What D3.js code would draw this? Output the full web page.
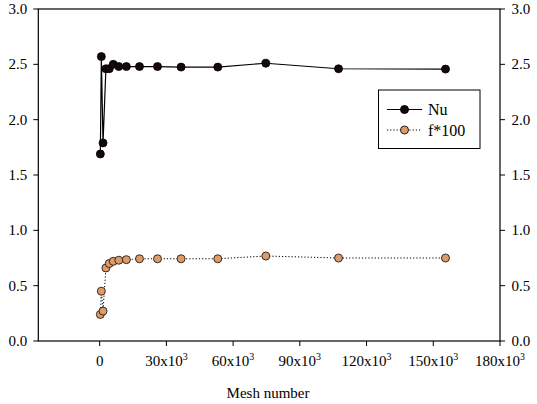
<!DOCTYPE html>
<html>
<head>
<meta charset="utf-8">
<script src="https://cdn.jsdelivr.net/npm/d3@7"></script>
<style>
  body { margin: 0; background: #fff; }
</style>
</head>
<body>
<svg id="chart" width="537" height="404"></svg>
<script>
// mesh sizes (shared x values) and the two series
const mesh = [300, 750, 1500, 2800, 4300, 6100, 8600, 12000, 17900, 26000, 36600, 53100, 74700, 107400, 155500];
const nu   = [1.69, 2.57, 1.79, 2.46, 2.46, 2.50, 2.48, 2.48, 2.48, 2.48, 2.475, 2.475, 2.51, 2.46, 2.457];
const f100 = [0.24, 0.45, 0.27, 0.66, 0.70, 0.72, 0.73, 0.735, 0.743, 0.743, 0.743, 0.743, 0.768, 0.75, 0.75];
const xTicks = [0, 30000, 60000, 90000, 120000, 150000, 180000];
const yTicks = [0, 0.5, 1.0, 1.5, 2.0, 2.5, 3.0];

const FONT = '"Liberation Serif", Tinos, "Noto Serif", "DejaVu Serif", "Times New Roman", serif';
const svg = d3.select('#chart').style('font-family', FONT);
const m = { l: 38.3, r: 500, t: 9, b: 341 };

const x = d3.scaleLinear().domain([-27600, 180000]).range([m.l, m.r]);
const y = d3.scaleLinear().domain([0, 3]).range([m.b, m.t]);

// frame
svg.append('rect').attr('x', m.l).attr('y', m.t).attr('width', m.r - m.l).attr('height', m.b - m.t)
  .attr('fill', 'none').attr('stroke', '#000').attr('stroke-width', 1.2);

// x axis ticks
xTicks.forEach(v => {
  svg.append('line').attr('x1', x(v)).attr('x2', x(v)).attr('y1', m.b).attr('y2', m.b + 5)
    .attr('stroke', '#000').attr('stroke-width', 1);
  const t = svg.append('text').attr('x', x(v)).attr('y', 366).attr('text-anchor', 'middle')
    .style('font-family', FONT).attr('font-size', 15);
  if (v === 0) t.text('0');
  else {
    t.append('tspan').text((v / 1000) + 'x10');
    t.append('tspan').attr('font-size', 10).attr('dy', -6).text('3');
  }
});

// y axis ticks both sides
yTicks.forEach(v => {
  svg.append('line').attr('x1', m.l - 5).attr('x2', m.l).attr('y1', y(v)).attr('y2', y(v)).attr('stroke', '#000');
  svg.append('line').attr('x1', m.r).attr('x2', m.r + 5).attr('y1', y(v)).attr('y2', y(v)).attr('stroke', '#000');
  svg.append('text').attr('x', m.l - 11).attr('y', y(v) + 5).attr('text-anchor', 'end')
    .style('font-family', FONT).attr('font-size', 15).text(v.toFixed(1));
  svg.append('text').attr('x', m.r + 11.5).attr('y', y(v) + 5).attr('text-anchor', 'start')
    .style('font-family', FONT).attr('font-size', 15).text(v.toFixed(1));
});

svg.append('text').attr('x', 268).attr('y', 398).attr('text-anchor', 'middle')
  .style('font-family', FONT).attr('font-size', 15).text('Mesh number');

// series
const line = vals => d3.line().x((d, i) => x(mesh[i])).y(d => y(d))(vals);

svg.append('path').attr('d', line(f100)).attr('fill', 'none').attr('stroke', '#000')
  .attr('stroke-width', 1).attr('stroke-dasharray', '1.2,2');
svg.append('path').attr('d', line(nu)).attr('fill', 'none').attr('stroke', '#000').attr('stroke-width', 1.2);

svg.selectAll('circle.nu').data(nu).join('circle').attr('class', 'nu')
  .attr('cx', (d, i) => x(mesh[i])).attr('cy', d => y(d)).attr('r', 4)
  .attr('fill', '#140808').attr('stroke', '#000').attr('stroke-width', 0.8);
svg.selectAll('circle.f').data(f100).join('circle').attr('class', 'f')
  .attr('cx', (d, i) => x(mesh[i])).attr('cy', d => y(d)).attr('r', 4)
  .attr('fill', '#d99c6c').attr('stroke', '#2a1a10').attr('stroke-width', 0.9);

// legend
const lg = svg.append('g');
lg.append('rect').attr('x', 378.5).attr('y', 90).attr('width', 101.5).attr('height', 58.5)
  .attr('fill', '#fff').attr('stroke', '#000').attr('stroke-width', 1);
lg.append('line').attr('x1', 387).attr('x2', 422).attr('y1', 109.5).attr('y2', 109.5).attr('stroke', '#000').attr('stroke-width', 1.2);
lg.append('circle').attr('cx', 404.5).attr('cy', 109.5).attr('r', 4).attr('fill', '#140808').attr('stroke', '#000');
lg.append('text').attr('x', 428).attr('y', 115).style('font-family', FONT).attr('font-size', 16).text('Nu');
lg.append('line').attr('x1', 387).attr('x2', 422).attr('y1', 130).attr('y2', 130).attr('stroke', '#000')
  .attr('stroke-width', 1).attr('stroke-dasharray', '1.2,2');
lg.append('circle').attr('cx', 404.5).attr('cy', 130).attr('r', 4).attr('fill', '#d99c6c').attr('stroke', '#2a1a10');
lg.append('text').attr('x', 428).attr('y', 135.5).style('font-family', FONT).attr('font-size', 16).text('f*100');
</script>
</body>
</html>
